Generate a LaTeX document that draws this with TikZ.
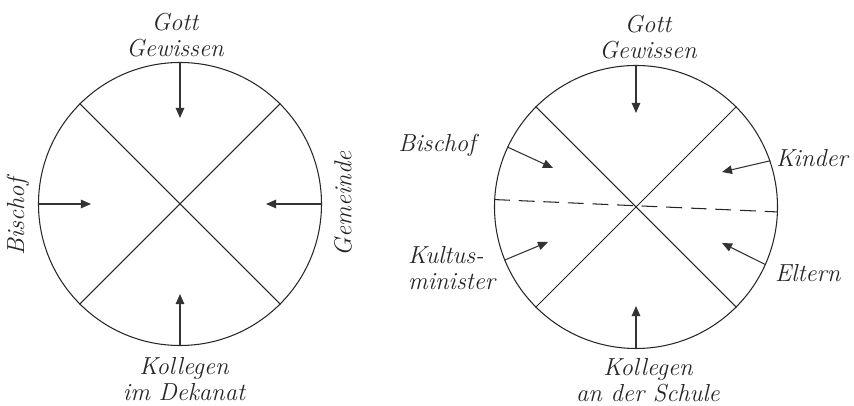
\documentclass[tikz,border=0pt]{standalone}
\usepackage{tikz}
\usetikzlibrary{positioning, arrows.meta, calc}

\begin{document}
\begin{tikzpicture}[
    disc/.style={draw=black!85, line width=0.6pt, circle, minimum size=5.66cm, inner sep=0pt},
    split/.style={draw=black!85, line width=0.6pt},
    push/.style={-{Triangle[length=2mm, width=1.7mm]}, draw=black!80, line width=0.6pt},
    hand/.style={font=\fontsize{14}{15}\selectfont\itshape, text=black!85, align=center, inner sep=1pt}
]
\useasboundingbox (0,0) rectangle (17.08,8.12);
% Circles
\node[disc] (L) at (3.6, 4.04)  {};
\node[disc] (R) at (12.72, 3.98) {};
% Quarters
\draw[split] (L.135) -- (L.-45);
\draw[split] (L.45)  -- (L.-135);
\draw[split] (R.135) -- (R.-45);
\draw[split] (R.45)  -- (R.-135);
\draw[split, dash pattern=on 9pt off 5pt] (R.177) -- (R.-2);
% Arrow tips, left circle
\coordinate (Ltop)   at ([yshift=-1.12cm]L.north);
\coordinate (Lbot)   at ([yshift=1.04cm]L.south);
\coordinate (Lleft)  at ([xshift=1.06cm]L.west);
\coordinate (Lright) at ([xshift=-1.12cm]L.east);
\draw[push] (L.north) -- (Ltop);
\draw[push] (L.south) -- (Lbot);
\draw[push] (L.west)  -- (Lleft);
\draw[push] (L.east)  -- (Lright);
% Arrow tips, right circle
\coordinate (Rtop)   at ([yshift=-0.96cm]R.north);
\coordinate (Rbot)   at ([yshift=0.86cm]R.south);
\coordinate (Rbish)  at (11.06, 4.76);
\coordinate (Rkult)  at (10.96, 3.28);
\coordinate (Rkind)  at (14.44, 4.68);
\coordinate (Relt)   at (14.44, 3.26);
\draw[push] (R.north) -- (Rtop);
\draw[push] (R.south) -- (Rbot);
\draw[push] (R.155)   -- (Rbish);
\draw[push] (R.202)   -- (Rkult);
\draw[push] (R.19)    -- (Rkind);
\draw[push] (R.-24)   -- (Relt);
% Labels, left circle
\node[hand] (lgott) at (3.5, 7.42)   {Gott\\Gewissen};
\node[hand, rotate=90] (lbisch) at (0.36, 3.78) {Bischof};
\node[hand, rotate=90] (lgem)   at (6.86, 4.04) {Gemeinde};
\node[hand] (lkoll) at (3.68, 0.54) {Kollegen\\im Dekanat};
% Labels, right circle
\node[hand] (rgott) at (12.96, 7.38) {Gott\\Gewissen};
\node[hand] (rbisch) at (8.74, 5.22) {Bischof};
\node[hand, anchor=west] (rkind) at (15.48, 4.96) {Kinder};
\node[hand, align=left, anchor=west] (rkult) at (8.12, 2.76) {Kultus-\\minister};
\node[hand, anchor=west] (relt) at (15.46, 2.66) {Eltern};
\node[hand] (rkoll) at (12.96, 0.52) {Kollegen\\an der Schule};
\end{tikzpicture}
\end{document}
